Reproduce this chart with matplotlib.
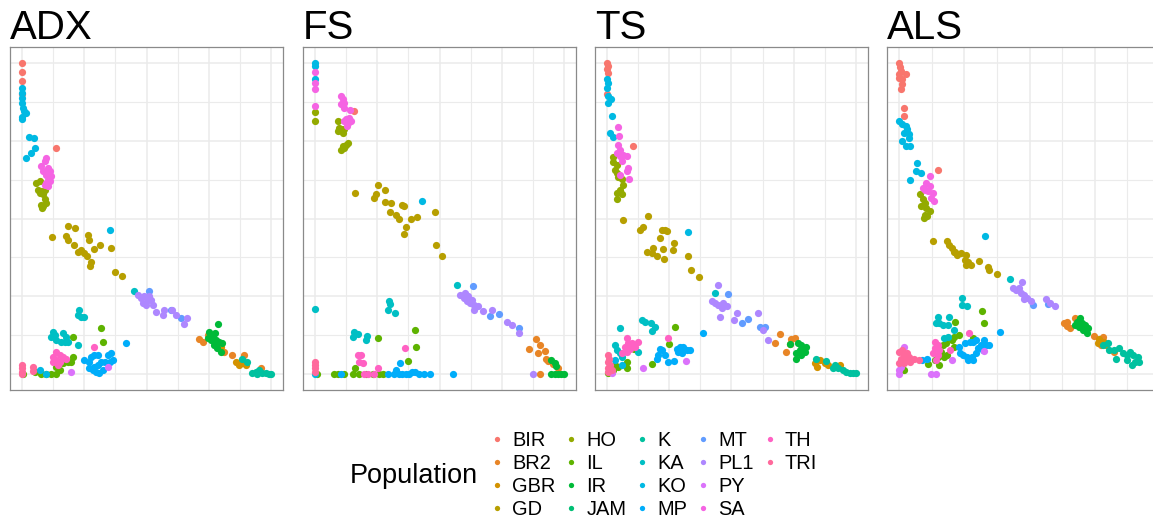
import numpy as np
import matplotlib
matplotlib.use("Agg")
import matplotlib.pyplot as plt
from matplotlib.lines import Line2D

plt.rcParams["font.family"] = ["Liberation Sans", "DejaVu Sans"]

POPS = ["BIR", "BR2", "GBR", "GD", "HO", "IL", "IR", "JAM", "K",
        "KA", "KO", "MP", "MT", "PL1", "PY", "SA", "TH", "TRI"]
PANELS = ["ADX", "FS", "TS", "ALS"]

# points, (x, y) per population
ADX = {
    "BIR": [(0, 1.0), (0, 0.971), (0, 0.941), (0, 0.898), (0.137, 0.725)],
    "BR2": [(0.71, 0.114), (0.726, 0.105), (0.746, 0.126), (0.846, 0.062), (0.873, 0.035),
            (0.893, 0.062), (0.96, 0.019), (0.813, 0.073)],
    "GBR": [(0.859, 0.041), (0.873, 0.03), (0.9, 0.03), (0.886, 0.038), (0.8, 0.089)],
    "GD": [(0.12, 0.441), (0.183, 0.475), (0.21, 0.469), (0.177, 0.443), (0.183, 0.432),
           (0.206, 0.414), (0.224, 0.391), (0.237, 0.398), (0.25, 0.389), (0.26, 0.38),
           (0.264, 0.448), (0.27, 0.432), (0.29, 0.402), (0.311, 0.416), (0.277, 0.362),
           (0.273, 0.348), (0.357, 0.405), (0.375, 0.33), (0.4, 0.314)],
    "HO": [(0.056, 0.614), (0.07, 0.62), (0.063, 0.593), (0.076, 0.587), (0.09, 0.593),
           (0.083, 0.577), (0.07, 0.582), (0.09, 0.561), (0.076, 0.544), (0.083, 0.539),
           (0.096, 0.55), (0.08, 0.534)],
    "IL": [(0.003, 0), (0.05, 0.009), (0.076, 0), (0.096, 0), (0.116, 0), (0.137, 0),
           (0.143, 0.041), (0.163, 0.046), (0.183, 0.041), (0.203, 0.057), (0.197, 0.041),
           (0.137, 0.025), (0.15, 0.014), (0.317, 0.148), (0.324, 0.105), (0.203, 0.121),
           (0.163, 0.035)],
    "IR": [(0.752, 0.137), (0.766, 0.121), (0.779, 0.11), (0.792, 0.105), (0.772, 0.094),
           (0.759, 0.11), (0.786, 0.084), (0.799, 0.073), (0.788, 0.162), (0.806, 0.1),
           (0.746, 0.116), (0.775, 0.132)],
    "K": [(0.886, 0.051), (0.906, 0.041), (0.926, 0.003), (0.94, 0.009), (0.953, 0.014),
          (0.967, 0.003), (0.98, 0.003), (0.993, 0), (1.0, 0), (0.946, 0)],
    "KA": [(0.23, 0.207), (0.237, 0.185), (0.25, 0.185), (0.224, 0.191), (0.123, 0.137),
           (0.13, 0.126), (0.116, 0.121), (0.163, 0.134), (0.177, 0.121), (0.17, 0.105),
           (0.157, 0.105), (0.183, 0.105), (0.224, 0.094), (0.137, 0.11), (0.451, 0.269)],
    "KO": [(0, 0.92), (0, 0.904), (0, 0.887), (0, 0.871), (0.003, 0.855), (0.007, 0.845),
           (0.013, 0.837), (0, 0.826), (0, 0.82), (0.027, 0.761), (0.047, 0.759),
           (0.052, 0.725), (0.033, 0.711), (0.013, 0.695), (0.351, 0.464),
           (0.07, 0.014), (0.096, 0.001)],
    "MP": [(0.25, 0.046), (0.27, 0.019), (0.29, 0.025), (0.284, 0.014), (0.297, 0.009),
           (0.31, 0.003), (0.304, 0.03), (0.317, 0.041), (0.304, 0.062), (0.29, 0.062),
           (0.331, 0.041), (0.344, 0.062), (0.357, 0.068), (0.364, 0.046), (0.351, 0.041),
           (0.27, 0.041), (0.418, 0.1), (0.277, 0.057), (0.324, 0.014)],
    "MT": [(0.511, 0.269), (0.639, 0.18), (0.598, 0.207)],
    "PL1": [(0.465, 0.255), (0.478, 0.244), (0.491, 0.25), (0.505, 0.239), (0.485, 0.228),
            (0.498, 0.223), (0.518, 0.239), (0.525, 0.223), (0.538, 0.201), (0.565, 0.191),
            (0.572, 0.205), (0.602, 0.205), (0.618, 0.191), (0.652, 0.162), (0.665, 0.18),
            (0.511, 0.25)],
    "PY": [(0.197, 0.009), (0.344, 0.025)],
    "SA": [(0.096, 0.695), (0.09, 0.684), (0.076, 0.668), (0.103, 0.662), (0.083, 0.652),
           (0.11, 0.652), (0.116, 0.636), (0.096, 0.641), (0.103, 0.625), (0.096, 0.614),
           (0.11, 0.62), (0.09, 0.609), (0.103, 0.603)],
    "TH": [(0.137, 0.073), (0.123, 0.057), (0.137, 0.046), (0.15, 0.062), (0.163, 0.057),
           (0.15, 0.041), (0.123, 0.041), (0.143, 0.03), (0.177, 0.051), (0.29, 0.089)],
    "TRI": [(0, 0.03), (0, 0.019), (0, 0.009), (0, 0.0), (0.043, 0.025), (0.043, 0.012)],
}

FS = {
    "BIR": [(0.157, 0.845)],
    "BR2": [(0.887, 0.113), (0.86, 0.08), (0.904, 0.094), (0.897, 0.068), (0.924, 0.076),
            (0.931, 0.051), (0.937, 0.044), (0.957, 0.033), (0.977, 0.019), (0.904, 0)],
    "GD": [(0.161, 0.582), (0.253, 0.606), (0.244, 0.577), (0.235, 0.566), (0.281, 0.593),
           (0.28, 0.553), (0.304, 0.55), (0.301, 0.521), (0.324, 0.51), (0.337, 0.499),
           (0.348, 0.542), (0.357, 0.539), (0.364, 0.473), (0.357, 0.45), (0.384, 0.499),
           (0.411, 0.505), (0.481, 0.52), (0.484, 0.416), (0.512, 0.38)],
    "HO": [(0, 0.842), (0, 0.812), (0.091, 0.812), (0.091, 0.78), (0.104, 0.786),
           (0.097, 0.791), (0.111, 0.775), (0.117, 0.786), (0.104, 0.721), (0.117, 0.726),
           (0.124, 0.737), (0.131, 0.743), (0.111, 0.732)],
    "IL": [(0.008, 0), (0.075, 0), (0.091, 0), (0.117, 0), (0.151, 0), (0.177, 0),
           (0.204, 0), (0.231, 0), (0.257, 0), (0.271, 0), (0.161, 0.019), (0.253, 0.116),
           (0.4, 0.143), (0.407, 0.089), (0.373, 0.043)],
    "IR": [(0.951, 0.046), (0.964, 0.035), (0.971, 0.027), (0.951, 0), (0.964, 0),
           (0.977, 0), (0.991, 0), (1.0, 0)],
    "KA": [(0, 0.209), (0.571, 0.287), (0.297, 0.234), (0.291, 0.205), (0.321, 0.198),
           (0.301, 0.225), (0.151, 0.121), (0.157, 0.137), (0.171, 0.13), (0.208, 0.123),
           (0.204, 0.11)],
    "KO": [(0, 1.0), (0, 0.989), (0, 0.946), (0.431, 0.557), (0, 0)],
    "MP": [(0.104, 0), (0.291, 0), (0.317, 0), (0.324, 0.014), (0.336, 0), (0.349, 0),
           (0.364, 0), (0.377, 0), (0.389, 0.009), (0.403, 0.009), (0.416, 0), (0.437, 0),
           (0.461, 0), (0.555, 0), (0.34, 0.038)],
    "MT": [(0.635, 0.284), (0.704, 0.188), (0.741, 0.194), (0.821, 0.148)],
    "PL1": [(0.584, 0.255), (0.603, 0.26), (0.616, 0.25), (0.629, 0.239), (0.611, 0.234),
            (0.637, 0.223), (0.624, 0.228), (0.637, 0.207), (0.657, 0.218), (0.677, 0.202),
            (0.711, 0.205), (0.771, 0.169), (0.791, 0.159), (0.821, 0.132), (0.877, 0),
            (0.597, 0.244)],
    "SA": [(0, 0.971), (0, 0.936), (0, 0.914), (0, 0.861), (0.104, 0.893), (0.111, 0.882),
           (0.117, 0.871), (0.104, 0.866), (0.115, 0.855), (0.124, 0.818), (0.137, 0.823),
           (0.131, 0.807), (0.117, 0.812), (0.141, 0.848), (0.144, 0.812), (0.129, 0.796)],
    "TH": [(0.171, 0.062), (0.184, 0.062), (0.177, 0.041), (0.191, 0.038), (0.253, 0.021),
           (0.361, 0.084), (0.211, 0), (0.195, 0), (0.237, 0)],
    "TRI": [(0, 0.041), (0, 0.03), (0, 0.019), (0, 0.009)],
}

TS = {
    "BIR": [(0, 1.0), (0.004, 0.989), (0, 0.979), (0.004, 0.968), (0.105, 0.734), (0, 0.898)],
    "BR2": [(0.674, 0.102), (0.694, 0.128), (0.718, 0.073), (0.741, 0.114), (0.755, 0.118),
            (0.737, 0.098)],
    "GBR": [(0.835, 0.035), (0.844, 0.025), (0.858, 0.046), (0.889, 0.03), (0.876, 0.038),
            (0.936, 0.03)],
    "GD": [(0.064, 0.496), (0.131, 0.462), (0.142, 0.473), (0.165, 0.509), (0.212, 0.437),
           (0.218, 0.462), (0.232, 0.464), (0.241, 0.459), (0.268, 0.423), (0.263, 0.398),
           (0.223, 0.402), (0.228, 0.371), (0.185, 0.405), (0.158, 0.391), (0.178, 0.389),
           (0.198, 0.38), (0.323, 0.38), (0.336, 0.335), (0.369, 0.312)],
    "HO": [(0.024, 0.698), (0.024, 0.681), (0.038, 0.67), (0.038, 0.646), (0.044, 0.633),
           (0.058, 0.627), (0.064, 0.606), (0.051, 0.593), (0.04, 0.582), (0.058, 0.58),
           (0.04, 0.564), (0.031, 0.657)],
    "IL": [(0.004, 0.003), (0.017, 0.009), (0.011, 0.019), (0.031, 0.03), (0.044, 0.025),
           (0.078, 0.041), (0.071, 0.03), (0.078, 0.019), (0.109, 0.08), (0.181, 0.033),
           (0.248, 0.098), (0.272, 0.151), (0.024, 0.014)],
    "IR": [(0.735, 0.098), (0.768, 0.1), (0.782, 0.094), (0.775, 0.078), (0.788, 0.084),
           (0.802, 0.089), (0.761, 0.068), (0.782, 0.062), (0.761, 0.051), (0.795, 0.073)],
    "K": [(0.842, 0.051), (0.882, 0.044), (0.916, 0.03), (0.929, 0.019), (0.949, 0.014),
          (0.962, 0.009), (0.979, 0.005), (0.989, 0.005), (1.0, 0.005), (0.909, 0.019)],
    "KA": [(0.433, 0.26), (0.031, 0.094), (0.038, 0.078), (0.051, 0.068), (0.058, 0.057),
           (0.051, 0.148), (0.125, 0.073), (0.138, 0.173), (0.151, 0.169), (0.176, 0.166),
           (0.192, 0.151), (0.178, 0.14)],
    "KO": [(0, 0.946), (0.004, 0.936), (0, 0.92), (0.004, 0.893), (0.013, 0.882),
           (0.004, 0.871), (0.017, 0.829), (0.011, 0.775), (0.024, 0.762), (0.326, 0.456),
           (0.031, 0.046), (0.058, 0.03)],
    "MP": [(0.198, 0.051), (0.205, 0.062), (0.218, 0.078), (0.212, 0.083), (0.231, 0.062),
           (0.245, 0.041), (0.269, 0.044), (0.285, 0.073), (0.292, 0.089), (0.306, 0.089),
           (0.319, 0.078), (0.332, 0.078), (0.299, 0.068), (0.279, 0.083), (0.386, 0.134)],
    "MT": [(0.484, 0.258), (0.543, 0.164), (0.565, 0.177), (0.614, 0.153), (0.634, 0.153)],
    "PL1": [(0.446, 0.287), (0.42, 0.234), (0.433, 0.228), (0.446, 0.223), (0.46, 0.212),
            (0.466, 0.228), (0.48, 0.218), (0.453, 0.185), (0.509, 0.175), (0.524, 0.198),
            (0.607, 0.196), (0.625, 0.143), (0.648, 0.11)],
    "PY": [(0.145, 0.019), (0.315, 0.044), (0.017, 0.005)],
    "SA": [(0.044, 0.794), (0.048, 0.764), (0.044, 0.737), (0.051, 0.721), (0.064, 0.705),
           (0.051, 0.7), (0.078, 0.7), (0.058, 0.684), (0.084, 0.662), (0.078, 0.652),
           (0.088, 0.627), (0.051, 0.641), (0.04, 0.711)],
    "TH": [(0.078, 0.116), (0.084, 0.1), (0.071, 0.089), (0.091, 0.083), (0.078, 0.073),
           (0.098, 0.1), (0.125, 0.105), (0.111, 0.089), (0.058, 0.068), (0.243, 0.116)],
    "TRI": [(0.004, 0.062), (0.007, 0.051), (0.004, 0.041), (0.011, 0.03), (0.004, 0.019),
            (0.017, 0.014), (0.001, 0.009)],
}

ALS = {
    "BIR": [(0, 1.0), (0.002, 0.987), (0.006, 0.973), (0.025, 0.962), (0, 0.951),
            (0.012, 0.946), (0.012, 0.93), (0.009, 0.914), (0.018, 0.853), (0.018, 0.829),
            (0.15, 0.655), (0, 0.962)],
    "BR2": [(0.633, 0.164), (0.645, 0.155), (0.657, 0.148), (0.676, 0.18), (0.749, 0.123),
            (0.781, 0.121), (0.774, 0.094), (0.823, 0.073), (0.645, 0.169)],
    "GBR": [(0.768, 0.113), (0.786, 0.105), (0.792, 0.094), (0.762, 0.1)],
    "GD": [(0.131, 0.427), (0.182, 0.427), (0.19, 0.416), (0.203, 0.405), (0.215, 0.394),
           (0.222, 0.384), (0.239, 0.389), (0.256, 0.384), (0.252, 0.368), (0.264, 0.362),
           (0.276, 0.352), (0.258, 0.352), (0.307, 0.365), (0.342, 0.346), (0.346, 0.335),
           (0.375, 0.323), (0.209, 0.391)],
    "HO": [(0.08, 0.577), (0.092, 0.561), (0.098, 0.55), (0.086, 0.539), (0.105, 0.534),
           (0.117, 0.523), (0.098, 0.512), (0.108, 0.507), (0.096, 0.502)],
    "IL": [(0.02, 0.014), (0.112, 0.033), (0.136, 0.046), (0.149, 0.057), (0.161, 0.073),
           (0.167, 0.094), (0.179, 0.1), (0.173, 0.057), (0.185, 0.062), (0.155, 0.03),
           (0.216, 0.169), (0.204, 0.11), (0.21, 0.121), (0.228, 0.126), (0.318, 0.204),
           (0.324, 0.164), (0.284, 0.116), (0.21, 0.089)],
    "IR": [(0.681, 0.169), (0.694, 0.18), (0.7, 0.164), (0.713, 0.159), (0.688, 0.153),
           (0.706, 0.143), (0.725, 0.148), (0.719, 0.134), (0.676, 0.159)],
    "K": [(0.78, 0.094), (0.799, 0.1), (0.805, 0.078), (0.823, 0.078), (0.842, 0.084),
          (0.86, 0.068), (0.872, 0.062), (0.885, 0.073), (0.897, 0.062), (0.903, 0.041),
          (0.916, 0.057), (0.921, 0.041), (0.891, 0.03), (0.833, 0.051), (0.872, 0.046)],
    "KA": [(0.424, 0.305), (0.241, 0.244), (0.241, 0.223), (0.26, 0.22), (0.149, 0.185),
           (0.155, 0.164), (0.167, 0.159), (0.192, 0.183), (0.186, 0.159), (0.211, 0.143),
           (0.186, 0.121), (0.173, 0.116), (0.143, 0.164)],
    "KO": [(0, 0.812), (0.012, 0.802), (0.025, 0.796), (0.031, 0.786), (0.018, 0.775),
           (0.037, 0.759), (0.012, 0.748), (0.027, 0.732), (0.043, 0.732), (0.068, 0.678),
           (0.065, 0.652), (0.086, 0.646), (0.043, 0.625), (0.329, 0.443), (0.037, 0.77)],
    "MP": [(0.087, 0.046), (0.106, 0.051), (0.228, 0.089), (0.253, 0.1), (0.271, 0.105),
           (0.284, 0.105), (0.296, 0.11), (0.315, 0.094), (0.327, 0.11), (0.333, 0.094),
           (0.321, 0.078), (0.302, 0.084), (0.296, 0.068), (0.278, 0.057), (0.259, 0.057),
           (0.247, 0.062), (0.284, 0.046), (0.265, 0.046), (0.235, 0.068), (0.388, 0.137),
           (0.345, 0.094)],
    "MT": [(0.514, 0.221), (0.571, 0.225)],
    "PL1": [(0.473, 0.297), (0.436, 0.277), (0.448, 0.271), (0.46, 0.277), (0.467, 0.26),
            (0.479, 0.255), (0.491, 0.244), (0.477, 0.241), (0.504, 0.234), (0.563, 0.241),
            (0.577, 0.228), (0.596, 0.218)],
    "PY": [(0.02, 0.089), (0.001, 0.014), (0.001, 0), (0.124, 0), (0.143, 0), (0.204, 0.046),
           (0.327, 0.076), (0.007, 0.025)],
    "SA": [(0.117, 0.636), (0.105, 0.614), (0.117, 0.603), (0.111, 0.587), (0.098, 0.593),
           (0.13, 0.582), (0.123, 0.566), (0.135, 0.555), (0.092, 0.598)],
    "TH": [(0.136, 0.105), (0.149, 0.094), (0.136, 0.084), (0.155, 0.078), (0.13, 0.068),
           (0.149, 0.062), (0.143, 0.046), (0.197, 0.078), (0.269, 0.134)],
    "TRI": [(0.001, 0.073), (0.013, 0.078), (0.02, 0.062), (0.007, 0.051), (0.026, 0.046),
            (0.038, 0.057), (0.044, 0.041), (0.032, 0.068), (0.001, 0.035), (0.02, 0.035),
            (0.056, 0.051), (0.075, 0.046)],
}


def hcl_hex(h, c=100.0, l=65.0):
    # polar LUV -> sRGB, like R's hcl() used by ggplot's hue palette
    hr = np.deg2rad(h)
    u, v = c * np.cos(hr), c * np.sin(hr)
    xn, yn, zn = 95.047, 100.0, 108.883
    den = xn + 15 * yn + 3 * zn
    un, vn = 4 * xn / den, 9 * yn / den
    y = yn * ((l + 16) / 116) ** 3
    up, vp = u / (13 * l) + un, v / (13 * l) + vn
    x = 9 * y * up / (4 * vp)
    z = -x / 3 - 5 * y + 3 * y / vp
    x, y, z = x / 100, y / 100, z / 100
    rgb = [3.240479 * x - 1.537150 * y - 0.498535 * z,
           -0.969256 * x + 1.875992 * y + 0.041556 * z,
           0.055648 * x - 0.204043 * y + 1.057311 * z]
    out = []
    for ch in rgb:
        ch = 1.055 * ch ** (1 / 2.4) - 0.055 if ch > 0.0031308 else 12.92 * ch
        out.append(min(max(ch, 0), 1))
    return out


hues = np.linspace(15, 375, len(POPS) + 1)[:-1]
COLORS = {p: hcl_hex(h) for p, h in zip(POPS, hues)}

W, H = 1153, 521
fig = plt.figure(figsize=(W / 100, H / 100), dpi=100)

lefts = [10, 303, 595, 887]
pw, top, bot = 273, 47, 390
datasets = [ADX, FS, TS, ALS]
xlims = [(-0.05, 1.05)] * 3 + [(-0.046, 0.967)]

for name, data, left, xl in zip(PANELS, datasets, lefts, xlims):
    ax = fig.add_axes([left / W, 1 - bot / H, pw / W, (bot - top) / H])
    for pop in POPS:
        if pop not in data:
            continue
        xs, ys = zip(*data[pop])
        ax.scatter(xs, ys, s=27, color=COLORS[pop], linewidths=0, zorder=3)
    ax.set_xlim(*xl)
    ax.set_ylim(-0.05, 1.05)
    ticks = np.arange(0, 1.01, 0.25)
    minor = np.arange(0.125, 1.0, 0.25)
    ax.set_xticks(ticks)
    ax.set_yticks(ticks)
    ax.set_xticks(minor, minor=True)
    ax.set_yticks(minor, minor=True)
    ax.grid(which="major", color="#EBEBEB", lw=1.1, zorder=0)
    ax.grid(which="minor", color="#EBEBEB", lw=0.8, zorder=0)
    ax.tick_params(which="both", length=0, labelbottom=False, labelleft=False)
    for sp in ax.spines.values():
        sp.set_color("#8a8a8a")
        sp.set_linewidth(0.9)
    ax.set_title(name, loc="left", fontsize=29, pad=6)

# 4 rows per column: pad the last column with two empty entries
handles = [Line2D([], [], ls="", marker="o", ms=3.8, mew=0, color=COLORS[p]) for p in POPS]
labels = list(POPS)
for _ in range(2):
    handles.append(Line2D([], [], ls="", marker=None))
    labels.append("")
fig.legend(handles, labels, ncol=5, loc="upper left", bbox_to_anchor=(491 / W, 1 - 431 / H),
           frameon=False, fontsize=14.4, handlelength=0.6, handletextpad=0.45,
           columnspacing=0.5, labelspacing=0.2, borderpad=0, borderaxespad=0)
fig.text(350 / W, 1 - 483 / H, "Population", fontsize=19.5, va="baseline", ha="left")

fig.savefig("out.png", dpi=100)
